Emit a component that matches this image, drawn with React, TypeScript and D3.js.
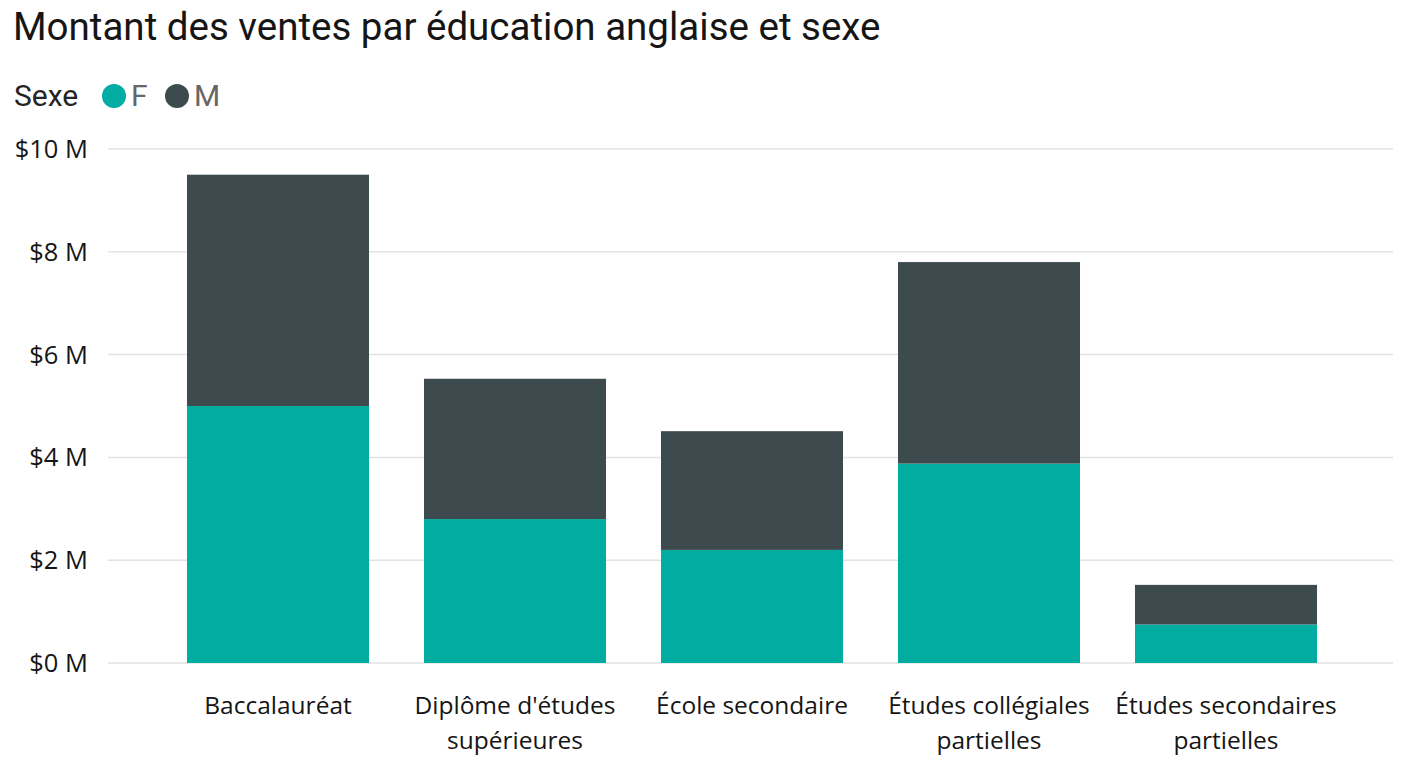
import React, { useEffect, useRef } from 'react';
import * as d3 from 'd3';

const categories = [
  'Baccalauréat',
  "Diplôme d'études supérieures",
  'École secondaire',
  'Études collégiales partielles',
  'Études secondaires partielles',
];
const femaleSales = [5.0, 2.8, 2.2, 3.88, 0.75];
const maleSales = [4.5, 2.73, 2.31, 3.92, 0.77];
const yTicks = [0, 2, 4, 6, 8, 10];
const seriesNames = ['F', 'M'];
const seriesColors = ['#01ACA0', '#3D4B4F'];

const W = 1408;
const H = 768;

const App = () => {
  const ref = useRef<SVGSVGElement>(null);

  useEffect(() => {
    const svg = d3.select(ref.current);
    svg.selectAll('*').remove();

    const font = "'Segoe UI', 'Open Sans', sans-serif";

    svg
      .append('text')
      .attr('x', 13)
      .attr('y', 40)
      .attr('font-family', 'Roboto, sans-serif')
      .attr('font-size', 38.5)
      .attr('fill', '#151515')
      .text('Montant des ventes par éducation anglaise et sexe');

    // legend
    const legend = svg.append('g');
    legend
      .append('text')
      .attr('x', 14)
      .attr('y', 106)
      .attr('font-family', 'Roboto, sans-serif')
      .attr('font-size', 30)
      .attr('fill', '#252525')
      .text('Sexe');
    const legendX = [114, 177];
    seriesNames.forEach((name, i) => {
      legend
        .append('circle')
        .attr('cx', legendX[i])
        .attr('cy', 96)
        .attr('r', 12)
        .attr('fill', seriesColors[i]);
      legend
        .append('text')
        .attr('x', legendX[i] + 17)
        .attr('y', 106)
        .attr('font-family', 'Roboto, sans-serif')
        .attr('font-size', 30)
        .attr('fill', '#666')
        .text(name);
    });

    const x = d3
      .scaleBand<string>()
      .domain(categories)
      .range([159.5, 1344.5])
      .paddingInner(0.232)
      .paddingOuter(0.116);

    const y = d3.scaleLinear().domain([0, 10]).range([663, 149]);

    // gridlines + y labels
    const grid = svg.append('g');
    yTicks.forEach(t => {
      grid
        .append('line')
        .attr('x1', 108)
        .attr('x2', 1393)
        .attr('y1', y(t))
        .attr('y2', y(t))
        .attr('stroke', '#e3e3e3')
        .attr('stroke-width', 1.5);
      grid
        .append('text')
        .attr('x', 88)
        .attr('y', y(t))
        .attr('dy', '0.35em')
        .attr('text-anchor', 'end')
        .attr('font-family', font)
        .attr('font-size', 25.5)
        .attr('fill', '#151515')
        .text(`$${t} M`);
    });

    // stacked bars
    const rows = categories.map((c, i) => ({ cat: c, F: femaleSales[i], M: maleSales[i] }));
    const stacked = d3.stack<any>().keys(seriesNames)(rows);

    svg
      .append('g')
      .selectAll('g')
      .data(stacked)
      .join('g')
      .attr('fill', (_d, i) => seriesColors[i])
      .selectAll('rect')
      .data(d => d)
      .join('rect')
      .attr('x', d => x(d.data.cat)!)
      .attr('width', x.bandwidth())
      .attr('y', d => y(d[1]))
      .attr('height', d => y(d[0]) - y(d[1]));

    // x labels, wrapped to the band step
    const labels = svg.append('g');
    categories.forEach(c => {
      const cx = x(c)! + x.bandwidth() / 2;
      const text = labels
        .append('text')
        .attr('x', cx)
        .attr('y', 714)
        .attr('text-anchor', 'middle')
        .attr('font-family', font)
        .attr('font-size', 24.5)
        .attr('fill', '#151515');
      const words = c.split(' ');
      let line: string[] = [];
      let tspan = text.append('tspan').attr('x', cx).attr('dy', 0);
      words.forEach(w => {
        line.push(w);
        tspan.text(line.join(' '));
        if ((tspan.node() as SVGTSpanElement).getComputedTextLength() > x.step() - 6 && line.length > 1) {
          line.pop();
          tspan.text(line.join(' '));
          line = [w];
          tspan = text.append('tspan').attr('x', cx).attr('dy', 35).text(w);
        }
      });
    });
  }, []);

  return (
    <svg
      ref={ref}
      width={W}
      height={H}
      style={{ position: 'absolute', left: 0, top: 0, background: '#fff' }}
    />
  );
};

export default App;
